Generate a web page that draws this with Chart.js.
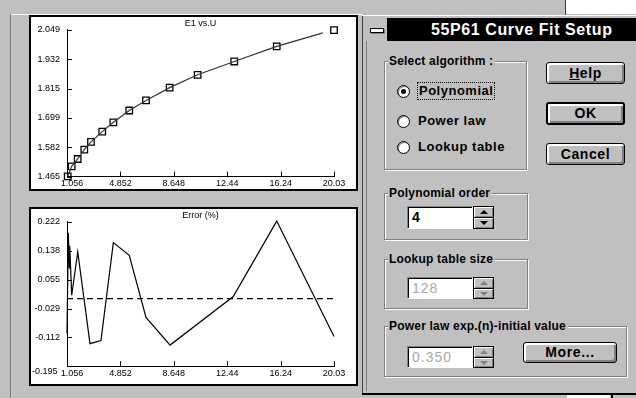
<!DOCTYPE html>
<html>
<head>
<meta charset="utf-8">
<script src="https://cdn.jsdelivr.net/npm/chart.js@4.4.1/dist/chart.umd.min.js"></script>
<style>
body{margin:0;width:636px;height:398px;background:#c0c0c0;position:relative;overflow:hidden;font-family:"Liberation Sans",Arial,sans-serif;}
.abs{position:absolute}
.panel{position:absolute;left:29px;width:329px;border:2px solid #000;background:#fff;box-sizing:border-box}
.panel canvas{display:block}
.grp{position:absolute;border:1px solid #808080;box-shadow:1px 1px 0 #fff, inset 1px 1px 0 #fff}
.grp span{position:absolute;left:3px;top:-8px;background:#c0c0c0;padding:0 2px 0 1px;font-weight:bold;font-size:12px;line-height:14px;white-space:nowrap;letter-spacing:0.2px}
.btn{position:absolute;box-sizing:border-box;border:1px solid #000;border-radius:3px;background:#c0c0c0;
  box-shadow:inset 1px 1px 0 #fff, inset 2px 2px 0 #fff, inset -1px -1px 0 #808080, inset -2px -2px 0 #808080;
  font-weight:bold;font-size:14px;text-align:center;letter-spacing:0.6px}
.btn.def{border-width:2px}
.radio{position:absolute;left:397px;width:13px;height:13px;border-radius:50%;background:#fff;border:1px solid #000;box-sizing:border-box;box-shadow:inset 1px 1px 0 #808080}
.radio.on::after{content:'';position:absolute;left:3px;top:3px;width:5px;height:5px;border-radius:50%;background:#000}
.rlab{position:absolute;left:418px;font-weight:bold;font-size:13px;line-height:16px;letter-spacing:0.5px;white-space:nowrap}
.edit{position:absolute;left:407px;width:66px;box-sizing:border-box;background:#fff;border:1px solid;border-color:#808080 #fff #fff #808080;box-shadow:inset 1px 1px 0 #000;font-size:14px;padding-left:4px;letter-spacing:1px}
.spin{position:absolute;left:473px;width:21px;box-sizing:border-box;border:1px solid #000;background:#000}
.spin div{position:relative;height:calc(50% - 0.5px);background:#c0c0c0;box-shadow:inset 1px 1px 0 #fff, inset -1px -1px 0 #808080}
.spin div + div{margin-top:1px}
.up,.dn{position:absolute;left:6px;width:0;height:0;border-left:4px solid transparent;border-right:4px solid transparent}
.up{top:3px;border-bottom:4px solid #000}
.dn{top:3px;border-top:4px solid #000}
.spin.off .up{border-bottom-color:#808080}
.spin.off .dn{border-top-color:#808080}
</style>
</head>
<body>

<!-- window frame -->
<div class="abs" style="left:565px;top:0;width:1px;height:15px;background:#404040"></div>
<div class="abs" style="left:566px;top:0;width:70px;height:14px;background:#fff"></div>
<div class="abs" style="left:10px;top:14px;width:352px;height:1px;background:#fff"></div>
<div class="abs" style="left:10px;top:14px;width:1px;height:384px;background:#808080"></div>

<!-- chart panels -->
<div class="panel" style="top:15px;height:176px"><canvas id="cTop" width="325" height="172"></canvas></div>
<div class="panel" style="top:207px;height:179px"><canvas id="cErr" width="325" height="175"></canvas></div>

<!-- dialog -->
<div class="abs" style="left:362px;top:15px;width:1px;height:379px;background:#404040"></div>
<div class="abs" style="left:366px;top:41px;width:1px;height:350px;background:#808080"></div>
<div class="abs" style="left:362px;top:15px;width:274px;height:1px;background:#fff"></div>
<div class="abs" style="left:362px;top:393px;width:274px;height:2px;background:#000"></div>
<div class="abs" style="left:567px;top:395px;width:43px;height:3px;background:#fff"></div>
<div class="abs" style="left:611px;top:395px;width:2px;height:3px;background:#000"></div>

<div class="abs" style="left:366px;top:18px;width:21px;height:23px;background:#c0c0c0;border-right:1px solid #000"></div>
<div class="abs" style="left:370px;top:28px;width:12px;height:3px;background:#fff;border:1px solid #000;box-shadow:1px 1px 0 #808080"></div>
<div class="abs" style="left:388px;top:18px;width:248px;height:23px;background:#000;color:#fff;font-weight:bold;font-size:16px;line-height:23px;padding-left:43px;box-sizing:border-box;letter-spacing:0.6px;white-space:nowrap">55P61 Curve Fit Setup</div>

<div class="grp" style="left:384px;top:61px;width:141px;height:107px"><span>Select algorithm :</span></div>
<div class="radio on" style="top:85px"></div>
<div class="radio" style="top:115px"></div>
<div class="radio" style="top:141px"></div>
<div class="rlab" style="top:83px;outline:1px dotted #000;outline-offset:0;padding:0 1px">Polynomial</div>
<div class="rlab" style="top:113px">Power law</div>
<div class="rlab" style="top:139px">Lookup table</div>

<div class="btn" style="left:546px;top:62px;width:79px;height:22px;line-height:20px"><u>H</u>elp</div>
<div class="btn def" style="left:546px;top:102px;width:79px;height:23px;line-height:19px">OK</div>
<div class="btn" style="left:546px;top:143px;width:79px;height:22px;line-height:20px">Cancel</div>

<div class="grp" style="left:384px;top:193px;width:142px;height:45px"><span>Polynomial order</span></div>
<div class="edit" style="top:206px;height:23px;line-height:21px;font-weight:bold">4</div>
<div class="spin" style="top:206px;height:23px"><div><span class="up"></span></div><div><span class="dn"></span></div></div>

<div class="grp" style="left:384px;top:259px;width:142px;height:48px"><span>Lookup table size</span></div>
<div class="edit" style="top:277px;height:22px;line-height:20px;color:#a8a8a8">128</div>
<div class="spin off" style="top:277px;height:22px"><div><span class="up"></span></div><div><span class="dn"></span></div></div>

<div class="grp" style="left:384px;top:326px;width:241px;height:49px"><span>Power law exp.(n)-initial value</span></div>
<div class="edit" style="top:346px;height:22px;line-height:20px;color:#a8a8a8">0.350</div>
<div class="spin off" style="top:346px;height:22px"><div><span class="up"></span></div><div><span class="dn"></span></div></div>
<div class="btn" style="left:523px;top:342px;width:94px;height:21px;line-height:19px">More...</div>

<script>
// ----------------- DATA -----------------
const xTickVals   = [1.056, 4.852, 8.648, 12.44, 16.24, 20.03];
const xTickLabels = ['1.056', '4.852', '8.648', '12.44', '16.24', '20.03'];
const e1TickVals   = [1.465, 1.582, 1.699, 1.815, 1.932, 2.049];
const e1TickLabels = ['1.465', '1.582', '1.699', '1.815', '1.932', '2.049'];
const errTickVals   = [-0.195, -0.112, -0.029, 0.055, 0.138, 0.222];
const errTickLabels = ['-0.195', '-0.112', '-0.029', '0.055', '0.138', '0.222'];

// calibration points (squares)
const calU  = [1.106, 1.39, 1.816, 2.285, 2.76, 3.56, 4.35, 5.48, 6.67, 8.35, 10.34, 12.94, 15.96, 20.03];
const calE1 = [1.466, 1.506, 1.535, 1.572, 1.603, 1.644, 1.681, 1.728, 1.768, 1.819, 1.870, 1.923, 1.983, 2.048];

// fitted curve
const fitU  = [1.106, 1.39, 1.816, 2.285, 2.76, 3.56, 4.35, 5.48, 6.67, 8.35, 10.34, 12.94, 15.96, 19.23];
const fitE1 = [1.466, 1.506, 1.535, 1.572, 1.603, 1.644, 1.681, 1.728, 1.768, 1.819, 1.870, 1.923, 1.983, 2.037];

// error of the fit (%)
const errU   = [1.056, 1.15, 1.22, 1.25, 1.39, 1.82, 2.69, 3.47, 4.35, 5.48, 6.67, 8.38, 12.87, 15.96, 20.03];
const errPct = [-0.100, 0.190, 0.089, 0.153, 0.010, 0.135, -0.130, -0.121, 0.162, 0.125, -0.054, -0.134, 0.006, 0.224, -0.109];
const zeroU   = [1.056, 20.03];
const zeroPct = [0, 0];

// ----------------- HELPERS -----------------
const tickFont = { family: '"Liberation Sans", Arial, sans-serif', size: 9 };
const pts = (xs, ys) => xs.map((x, i) => ({ x: x, y: ys[i] }));

// small tick marks pointing into the plot
const tickMarks = {
  id: 'tickMarks',
  afterDraw(chart) {
    const { ctx, chartArea, scales: { x, y } } = chart;
    ctx.save();
    ctx.strokeStyle = '#000';
    ctx.lineWidth = 1;
    ctx.beginPath();
    x.ticks.forEach((t, i) => {
      if (i === 0) return;
      const px = Math.round(x.getPixelForValue(t.value)) + 0.5;
      ctx.moveTo(px, chartArea.bottom);
      ctx.lineTo(px, chartArea.bottom - 5);
    });
    y.ticks.forEach(t => {
      const py = Math.round(y.getPixelForValue(t.value)) + 0.5;
      ctx.moveTo(chartArea.left, py);
      ctx.lineTo(chartArea.left + 5, py);
    });
    ctx.stroke();
    ctx.restore();
  }
};

function xScale() {
  return {
    type: 'linear', min: xTickVals[0], max: xTickVals[xTickVals.length - 1],
    afterBuildTicks: s => { s.ticks = xTickVals.map(v => ({ value: v })); },
    afterFit: s => { s.height = 12; },
    grid: { display: false, drawTicks: false },
    border: { color: '#000', width: 1 },
    ticks: {
      autoSkip: false, maxRotation: 0, padding: 2, color: '#000', font: tickFont,
      callback: (v, i) => i === 0 ? '    ' + xTickLabels[i] : xTickLabels[i]
    }
  };
}

function yScale(vals, labels, lowFirst) {
  return {
    type: 'linear', min: vals[0], max: vals[vals.length - 1],
    afterBuildTicks: s => { s.ticks = vals.map(v => ({ value: v })); },
    afterFit: s => { s.width = 36; },
    grid: { display: false, drawTicks: false },
    border: { color: '#000', width: 1 },
    ticks: {
      autoSkip: false, padding: 7, color: '#000', font: tickFont,
      callback: (v, i) => (lowFirst && i === 0) ? ['', labels[i] + ' '] : labels[i]
    }
  };
}

function baseOptions(title, yOpts) {
  return {
    animation: false, responsive: false, maintainAspectRatio: false,
    layout: { padding: { left: 0, right: 22, top: 0, bottom: 0 } },
    plugins: {
      legend: { display: false },
      tooltip: { enabled: false },
      title: { display: true, fullSize: false, text: title, color: '#000', padding: { top: 1, bottom: 1 },
               font: { family: tickFont.family, size: 9, weight: 'normal' } }
    },
    scales: { x: xScale(), y: yOpts }
  };
}

// ----------------- E1 vs U -----------------
new Chart(document.getElementById('cTop'), {
  type: 'line',
  data: {
    datasets: [
      { data: pts(fitU, fitE1), borderColor: '#333', borderWidth: 1.2, pointRadius: 0, tension: 0, clip: false },
      { data: pts(calU, calE1), showLine: false, pointStyle: 'rect', pointRadius: 4.6,
        pointBorderWidth: 1.3, pointBorderColor: '#000', pointBackgroundColor: 'rgba(0,0,0,0)', clip: false }
    ]
  },
  options: baseOptions('E1 vs.U', yScale(e1TickVals, e1TickLabels, false)),
  plugins: [tickMarks]
});

// ----------------- ERROR (%) -----------------
new Chart(document.getElementById('cErr'), {
  type: 'line',
  data: {
    datasets: [
      { data: pts(errU, errPct), borderColor: '#000', borderWidth: 1.2, pointRadius: 0, tension: 0, clip: false },
      { data: pts(zeroU, zeroPct), borderColor: '#000', borderWidth: 1.3, borderDash: [6, 4], pointRadius: 0, clip: false }
    ]
  },
  options: baseOptions('Error (%)', yScale(errTickVals, errTickLabels, true)),
  plugins: [tickMarks]
});
</script>
</body>
</html>
